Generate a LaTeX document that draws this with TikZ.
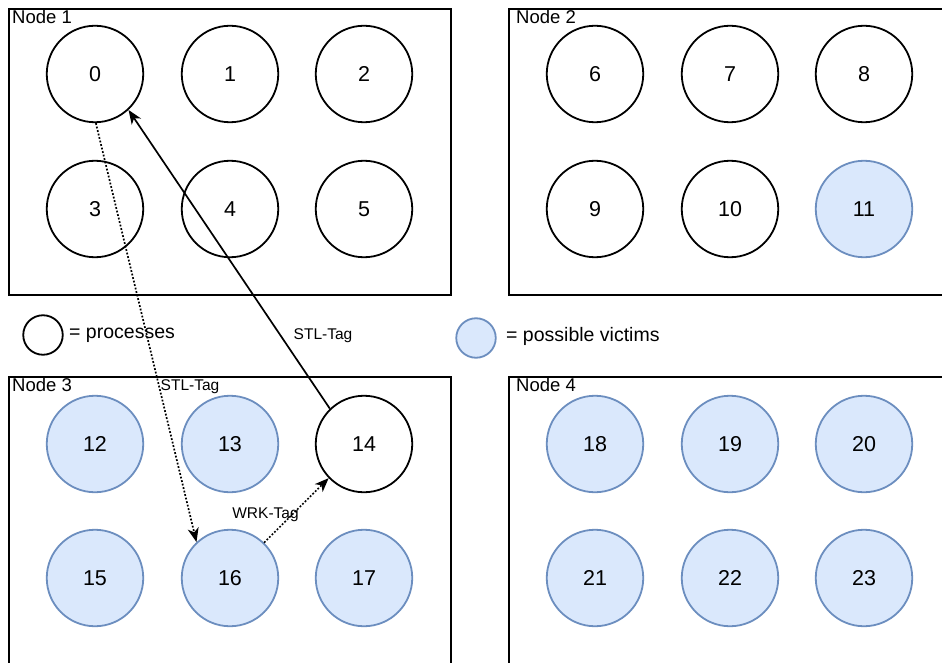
\documentclass[tikz,border=0pt]{standalone}
\usepackage{fontspec}
\setmainfont{Liberation Sans}
\usetikzlibrary{arrows.meta}

\definecolor{victimfill}{HTML}{DAE8FC}
\definecolor{victimline}{HTML}{6C8EBF}

\tikzset{
  hostbox/.style={line width=2.2pt, black},
  hostlabel/.style={anchor=base west, inner sep=0pt, font=\fontsize{18.5}{21}\selectfont},
  proc/.style={circle, draw=black, line width=1.8pt, fill=white, minimum size=96.5pt,
               inner sep=0pt, font=\fontsize{21.5}{25}\selectfont},
  victim/.style={proc, draw=victimline, fill=victimfill},
  legendproc/.style={circle, draw=black, line width=1.8pt, minimum size=39.5pt, inner sep=0pt},
  legendvictim/.style={legendproc, draw=victimline, fill=victimfill},
  legendtext/.style={anchor=west, inner sep=0pt, font=\fontsize{19.5}{23}\selectfont},
  taglabel/.style={inner sep=0pt, font=\fontsize{15.5}{18}\selectfont},
  tip/.style={-{Stealth[length=14pt, width=11pt, inset=4pt]}, line width=1.7pt},
  stealline/.style={tip},
  msgline/.style={tip, dash pattern=on 1.8pt off 1.8pt},
}

\begin{document}
\begin{tikzpicture}[x=1pt, y=-1pt]
  \useasboundingbox (0,0) rectangle (942,663);

  % host boxes (the right and lower ones run past the edge)
  \draw[hostbox] (9,9) rectangle (451,295);
  \draw[hostbox] (942,9) -- (509,9) -- (509,295) -- (942,295);
  \draw[hostbox] (9,663) -- (9,377) -- (451,377) -- (451,663);
  \draw[hostbox] (509,663) -- (509,377) -- (942,377);

  \node[hostlabel] (h1) at (12,23.5) {Node 1};
  \node[hostlabel] (h2) at (516,23.5) {Node 2};
  \node[hostlabel] (h3) at (12,391.5) {Node 3};
  \node[hostlabel] (h4) at (516,391.5) {Node 4};

  % Node 1
  \node[proc] (p0) at (95,74) {0};
  \node[proc] (p1) at (230,74) {1};
  \node[proc] (p2) at (364,74) {2};
  \node[proc] (p3) at (95,209) {3};
  \node[proc] (p4) at (230,209) {4};
  \node[proc] (p5) at (364,209) {5};

  % Node 2
  \node[proc] (p6) at (595,74) {6};
  \node[proc] (p7) at (730,74) {7};
  \node[proc] (p8) at (864,74) {8};
  \node[proc] (p9) at (595,209) {9};
  \node[proc] (p10) at (730,209) {10};
  \node[victim] (p11) at (864,209) {11};

  % Node 3
  \node[victim] (p12) at (95,444) {12};
  \node[victim] (p13) at (230,444) {13};
  \node[proc] (p14) at (364,444) {14};
  \node[victim] (p15) at (95,578) {15};
  \node[victim] (p16) at (230,578) {16};
  \node[victim] (p17) at (364,578) {17};

  % Node 4
  \node[victim] (p18) at (595,444) {18};
  \node[victim] (p19) at (730,444) {19};
  \node[victim] (p20) at (864,444) {20};
  \node[victim] (p21) at (595,578) {21};
  \node[victim] (p22) at (730,578) {22};
  \node[victim] (p23) at (864,578) {23};

  % legend
  \node[legendproc] (lp) at (43,335) {};
  \node[legendtext] (lpt) at (69,335) {= processes};
  \node[legendvictim] (lv) at (476,338) {};
  \node[legendtext] (lvt) at (506,336.5) {= possible victims};

  % messages
  \draw[msgline] (p0.271) -- (p16.133);
  \draw[msgline] (p16.46) -- (p14.224);
  \draw[stealline] (p14.134) -- (p0.313);

  \node[taglabel] (t1) at (323,336) {STL-Tag};
  \node[taglabel] (t2) at (190,387) {STL-Tag};
  \node[taglabel] (t3) at (265.5,515) {WRK-Tag};
\end{tikzpicture}
\end{document}
